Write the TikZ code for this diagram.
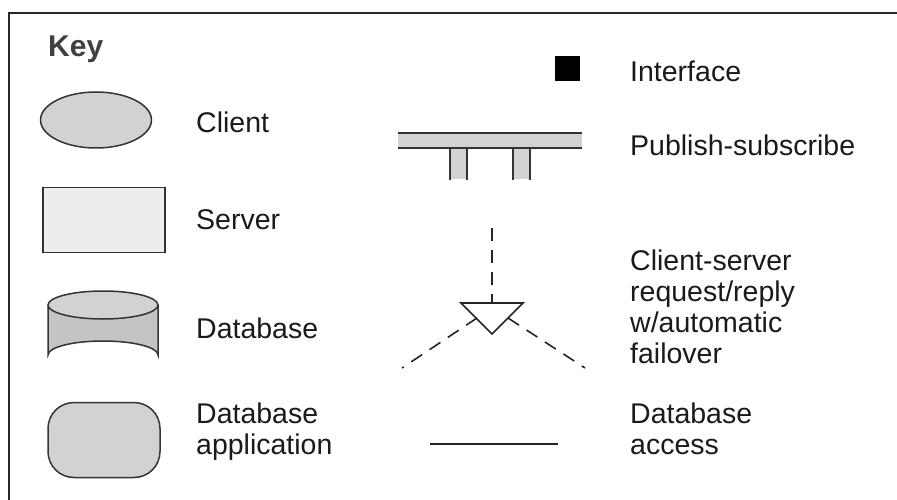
\documentclass[tikz,border=0pt]{standalone}
\usepackage{fontspec}
\setmainfont{Liberation Sans}
\usetikzlibrary{shapes.geometric}
\definecolor{lg}{HTML}{D2D2D2}
\definecolor{vlg}{HTML}{EDEDED}
\definecolor{dg}{HTML}{C4C4C4}
\definecolor{tx}{HTML}{1A1A1A}
\begin{document}
\begin{tikzpicture}[x=1pt,y=-1pt,
  lbl/.style={anchor=base west,inner sep=0pt,text=tx,font=\fontsize{28.5}{31}\selectfont,align=left},
  shp/.style={draw=black!80,line width=1.5pt},
  dsh/.style={draw=black!85,line width=1.6pt,dash pattern=on 13pt off 9pt}]
\useasboundingbox (0,0) rectangle (897,500);
\draw[line width=1.8pt,black!85] (897,13) -- (9,13) -- (9,500);
\node[anchor=base west,inner sep=0pt,text=black!75,font=\fontsize{30}{34}\selectfont\bfseries] (key) at (48,57) {Key};
% client
\node[ellipse,shp,fill=lg,minimum width=111pt,minimum height=56pt,inner sep=0pt] (client) at (96,120) {};
\node[lbl] (clientl) at (196,133) {Client};
% server
\node[rectangle,shp,fill=vlg,minimum width=122pt,minimum height=65pt,inner sep=0pt] (server) at (104,220) {};
\node[lbl] (serverl) at (196,229) {Server};
% database cylinder
\draw[shp,fill=dg] (48,305) -- (48,355) arc[start angle=180,end angle=360,x radius=55,y radius=14] -- (158,305);
\draw[shp,fill=lg] (103,305) ellipse[x radius=55,y radius=14];
\node[inner sep=0pt] (db) at (103,330) {};
\node[lbl] (dbl) at (196,338) {Database};
% db application
\node[rectangle,rounded corners=26pt,shp,fill=lg,minimum width=112pt,minimum height=75pt,inner sep=0pt] (dbapp) at (104,440) {};
\node[lbl] (dbappl) at (196,454) {Database\\application};
% interface
\node[rectangle,fill=black,minimum size=25pt,inner sep=0pt] (iface) at (567,69) {};
\node[lbl] (ifacel) at (630,82) {Interface};
% publish-subscribe
\fill[lg] (398,133) rectangle (582,148);
\fill[lg] (450,148) rectangle (467,179);
\fill[lg] (513,148) rectangle (530,179);
\draw[black!80,line width=1.5pt] (398,133) -- (582,133);
\draw[black!80,line width=1.5pt] (398,148) -- (582,148);
\draw[black!80,line width=1.5pt] (450,148) -- (450,180) (467,148) -- (467,180) (513,148) -- (513,180) (530,148) -- (530,180);
\node[lbl] (psl) at (630,156) {Publish-subscribe};
% client-server failover
\coordinate (top) at (492,228);
\coordinate (tl) at (461,303);
\coordinate (tr) at (523,303);
\coordinate (apex) at (492,334);
\coordinate (sl) at (477,318);
\coordinate (sr) at (508,318);
\coordinate (ll) at (402,368);
\coordinate (lr) at (585,368);
\draw[dsh] (top) -- (492,303);
\draw[black!85,line width=1.6pt,line join=miter] (tl) -- (tr) -- (apex) -- cycle;
\draw[dsh] (sl) -- (ll);
\draw[dsh] (sr) -- (lr);
\node[lbl] (csl) at (630,363) {Client-server\\request/reply\\w/automatic\\failover};
% database access
\coordinate (da1) at (430,444);
\coordinate (da2) at (558,444);
\draw[black!85,line width=1.5pt] (da1) -- (da2);
\node[lbl] (dal) at (630,454) {Database\\access};
\end{tikzpicture}
\end{document}
